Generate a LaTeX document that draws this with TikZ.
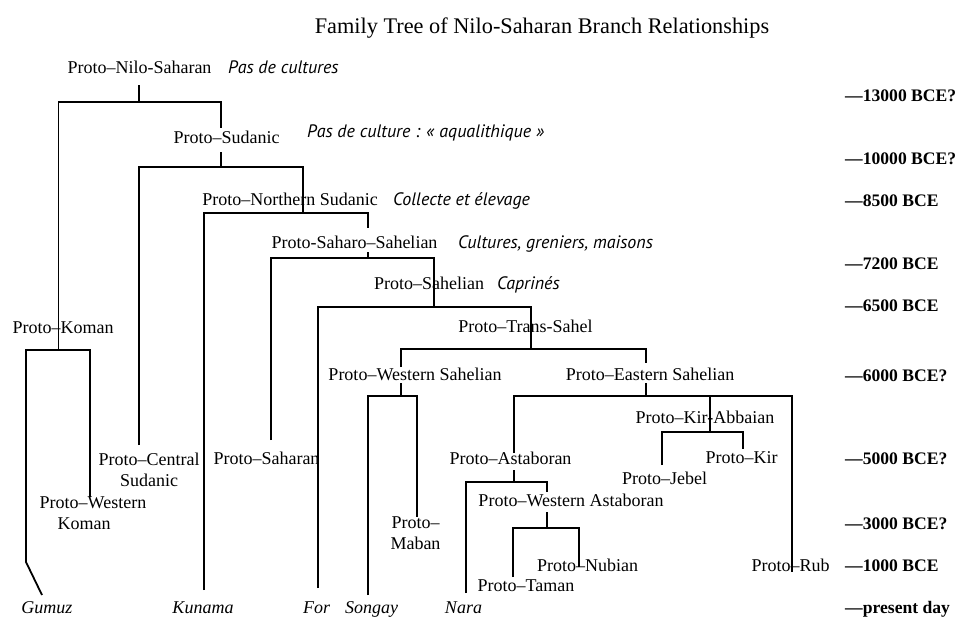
\documentclass[tikz,border=0pt]{standalone}
\usepackage{fontspec}
\setmainfont{Liberation Serif}
\newfontfamily\notefont{PT Sans}
\begin{document}
\begin{tikzpicture}[x=1pt,y=-1pt,
  lbl/.style={inner sep=0pt,anchor=base,font=\fontsize{18}{21}\selectfont},
  leaf/.style={inner sep=0pt,anchor=base,font=\fontsize{18}{21}\selectfont\itshape},
  multi/.style={inner sep=0pt,anchor=center,align=center,font=\fontsize{18}{20.5}\selectfont},
  note/.style={inner sep=0pt,anchor=base west,font=\fontsize{18}{21}\selectfont\notefont\itshape},
  date/.style={inner sep=0pt,anchor=base west,font=\fontsize{17.6}{20}\selectfont\bfseries},
  link/.style={line width=1.8pt,line join=miter}]
\fill[white] (0,0) rectangle (970,632);
\useasboundingbox (0,0) rectangle (970,632);

% title
\node[inner sep=0pt,anchor=base,font=\fontsize{22.3}{26}\selectfont] (title) at (542,33) {Family Tree of Nilo-Saharan Branch Relationships};

% tree labels
\node[lbl] (nilo) at (139.5,73) {Proto–Nilo-Saharan};
\node[lbl] (sudanic) at (226.5,143) {Proto–Sudanic};
\node[lbl] (northern) at (290,205) {Proto–Northern Sudanic};
\node[lbl] (saharo) at (354.5,248) {Proto-Saharo–Sahelian};
\node[lbl] (sahelian) at (429,289) {Proto–Sahelian};
\node[lbl] (trans) at (525.5,332) {Proto–Trans-Sahel};
\node[lbl] (wsah) at (415,380) {Proto–Western Sahelian};
\node[lbl] (esah) at (650,380) {Proto–Eastern Sahelian};
\node[lbl] (koman) at (63,333) {Proto–Koman};
\node[multi,align=left] (wkoman) at (93,513) {Proto–Western\\\hspace*{18pt}Koman};
\node[multi] (central) at (149,470) {Proto–Central\\Sudanic};
\node[lbl] (saharan) at (266.5,464) {Proto–Saharan};
\node[multi] (maban) at (415.5,533) {Proto–\\Maban};
\node[lbl] (astaboran) at (510.5,464) {Proto–Astaboran};
\node[lbl] (wasta) at (571,506) {Proto–Western Astaboran};
\node[lbl] (taman) at (526,591) {Proto–Taman};
\node[lbl] (nubian) at (587.5,571) {Proto–Nubian};
\node[lbl] (kirab) at (705,423) {Proto–Kir-Abbaian};
\node[lbl] (jebel) at (664.5,484) {Proto–Jebel};
\node[lbl] (kir) at (741.5,463) {Proto–Kir};
\node[lbl] (rub) at (790.5,571) {Proto–Rub};

% present-day languages
\node[leaf] (gumuz) at (47,613) {Gumuz};
\node[leaf] (kunama) at (203,613) {Kunama};
\node[leaf] (for) at (316.5,613) {For};
\node[leaf] (songay) at (371.5,613) {Songay};
\node[leaf] (nara) at (463.5,613) {Nara};

% culture notes
\node[note] (n1) at (228,73) {Pas de cultures};
\node[note] (n2) at (307,137) {Pas de culture : « aqualithique »};
\node[note] (n3) at (393,205) {Collecte et élevage};
\node[note] (n4) at (458,248) {Cultures, greniers, maisons};
\node[note] (n5) at (497,289) {Caprinés};

% dates
\node[date] (d1) at (845,101) {—13000 BCE?};
\node[date] (d2) at (845,164) {—10000 BCE?};
\node[date] (d3) at (845,206) {—8500 BCE};
\node[date] (d4) at (845,269) {—7200 BCE};
\node[date] (d5) at (845,311) {—6500 BCE};
\node[date] (d6) at (845,381) {—6000 BCE?};
\node[date] (d7) at (845,464) {—5000 BCE?};
\node[date] (d8) at (845,529) {—3000 BCE?};
\node[date] (d9) at (845,571) {—1000 BCE};
\node[date] (d10) at (845,613) {—present day};

% connection points (where a line leaves a label downward / meets it from above)
\coordinate (nilo-dn) at (139,85);
\coordinate (nilo-bar) at (139,102);
\coordinate (koman-up) at (58.5,340);
\coordinate (sudanic-up) at (221,128);
\coordinate (sudanic-dn) at (221,152);
\coordinate (sudanic-bar) at (221,167);
\coordinate (central-up) at (139,445);
\coordinate (northern-up) at (303,190);
\coordinate (northern-bar) at (303,213);
\coordinate (kunama-up) at (204,590);
\coordinate (saharo-up) at (368,228);
\coordinate (saharo-dn) at (368,252);
\coordinate (saharo-bar) at (368,258);
\coordinate (saharan-up) at (271,440);
\coordinate (sahelian-up) at (434,280);
\coordinate (sahelian-bar) at (434,307);
\coordinate (for-up) at (318,588);
\coordinate (trans-up) at (531,330);
\coordinate (trans-bar) at (531,349);
\coordinate (wsah-up) at (401,367);
\coordinate (wsah-dn) at (401,383);
\coordinate (wsah-bar) at (401,396);
\coordinate (songay-up) at (368,595);
\coordinate (maban-up) at (417,517);
\coordinate (esah-up) at (646,363);
\coordinate (esah-dn) at (646,383);
\coordinate (esah-bar) at (646,396);
\coordinate (astaboran-up) at (514,453);
\coordinate (astaboran-dn) at (514,470);
\coordinate (astaboran-bar) at (514,482);
\coordinate (kirab-up) at (710,410);
\coordinate (kirab-bar) at (710,432);
\coordinate (rub-up) at (792,572);
\coordinate (jebel-up) at (662,465);
\coordinate (kir-up) at (743,449);
\coordinate (nara-up) at (466,593);
\coordinate (wasta-up) at (547,492);
\coordinate (wasta-dn) at (547,512);
\coordinate (wasta-bar) at (547,528);
\coordinate (taman-up) at (513,577);
\coordinate (nubian-up) at (579,567);
\coordinate (koman-bar) at (58.5,350);
\coordinate (gumuz-bend) at (26,562);
\coordinate (gumuz-up) at (42,595);
\coordinate (wkoman-up) at (90,497);

% connectors
\draw[link] (nilo-dn) -- (nilo-bar);
\draw[link] (koman-up) |- (nilo-bar) -| (sudanic-up);
\draw[link] (koman-up) -- (koman-bar);

\draw[link] (sudanic-dn) -- (sudanic-bar);
\draw[link] (central-up) |- (sudanic-bar) -| (northern-up);
\draw[link] (northern-up) -- (northern-bar);

\draw[link] (kunama-up) |- (northern-bar) -| (saharo-up);

\draw[link] (saharo-dn) -- (saharo-bar);
\draw[link] (saharan-up) |- (saharo-bar) -| (sahelian-up);
\draw[link] (sahelian-up) -- (sahelian-bar);

\draw[link] (for-up) |- (sahelian-bar) -| (trans-up);
\draw[link] (trans-up) -- (trans-bar);

\draw[link] (wsah-up) |- (trans-bar) -| (esah-up);

\draw[link] (wsah-dn) -- (wsah-bar);
\draw[link] (songay-up) |- (wsah-bar) -| (maban-up);

\draw[link] (esah-dn) -- (esah-bar);
\draw[link] (astaboran-up) |- (esah-bar) -| (rub-up);
\draw[link] (kirab-up |- esah-bar) -- (kirab-bar);
\draw[link] (jebel-up) |- (kirab-bar) -| (kir-up);

\draw[link] (astaboran-dn) -- (astaboran-bar);
\draw[link] (nara-up) |- (astaboran-bar) -| (wasta-up);
\draw[link] (wasta-dn) -- (wasta-bar);
\draw[link] (taman-up) |- (wasta-bar) -| (nubian-up);

\draw[link] (gumuz-up) -- (gumuz-bend) |- (koman-bar) -| (wkoman-up);
\end{tikzpicture}
\end{document}
